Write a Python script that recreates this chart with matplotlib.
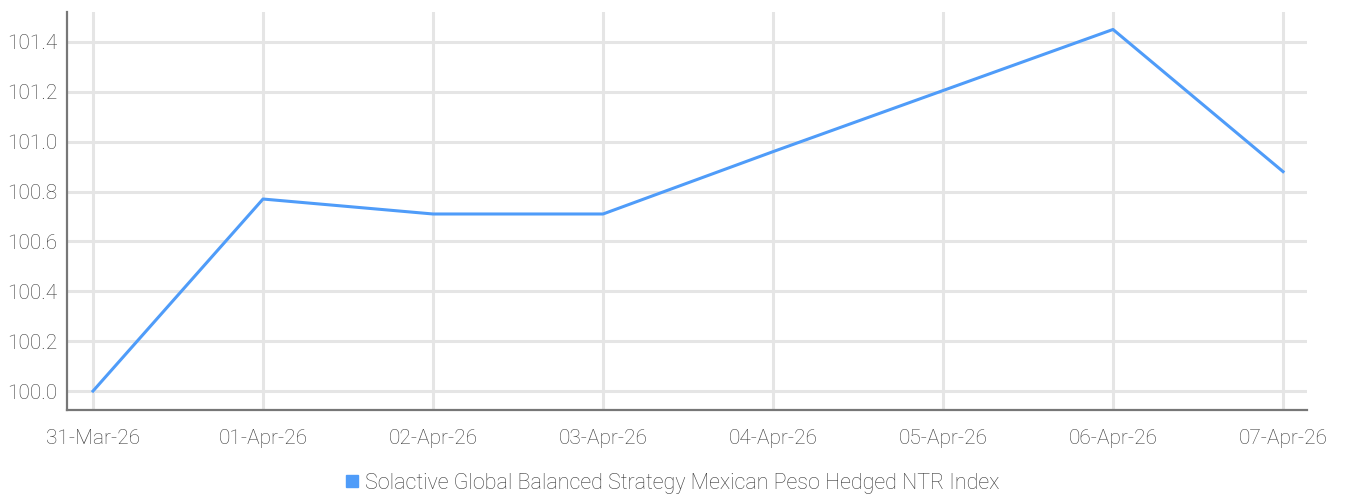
import matplotlib.pyplot as plt
from matplotlib.lines import Line2D

plt.rcParams['font.family'] = ['Roboto', 'DejaVu Sans']
plt.rcParams['font.weight'] = 'light'

dates = ["31-Mar-26", "01-Apr-26", "02-Apr-26", "03-Apr-26",
         "04-Apr-26", "05-Apr-26", "06-Apr-26", "07-Apr-26"]
values = [100.0, 100.77, 100.71, 100.71, 100.96, 101.205, 101.45, 100.88]
yticks = [100.0, 100.2, 100.4, 100.6, 100.8, 101.0, 101.2, 101.4]
series_name = "Solactive Global Balanced Strategy Mexican Peso Hedged NTR Index"

line_color = "#4f9cf9"
text_color = "#3a3a3a"

fig = plt.figure(figsize=(13.45, 4.96), dpi=100)
ax = fig.add_axes([67/1345, 1 - 410/496, 1240/1345, 398/496])

x = list(range(len(dates)))
ax.plot(x, values, color=line_color, lw=2.2)

ax.set_xlim(-0.153, 7.141)
ax.set_ylim(99.924, 101.52)
ax.set_xticks(x)
ax.set_xticklabels(dates)
ax.set_yticks(yticks)
ax.set_yticklabels([f"{v:.1f}" for v in yticks])

ax.grid(True, color="#e5e5e5", lw=2.2)
ax.set_axisbelow(True)
for s in ["top", "right"]:
    ax.spines[s].set_visible(False)
for s in ["left", "bottom"]:
    ax.spines[s].set_color("#777777")
    ax.spines[s].set_linewidth(1.6)
ax.tick_params(length=0, labelsize=15, colors=text_color, pad=7)
ax.tick_params(axis='x', pad=14)

handle = Line2D([], [], marker='s', color='none', markerfacecolor=line_color,
                markeredgecolor=line_color, markersize=8)
fig.legend([handle], [series_name], loc='center', bbox_to_anchor=(0.5, 1 - 483/496),
           frameon=False, fontsize=15.5, labelcolor=text_color,
           handlelength=0.6, handletextpad=0.3)

fig.savefig("out.png", dpi=100)
